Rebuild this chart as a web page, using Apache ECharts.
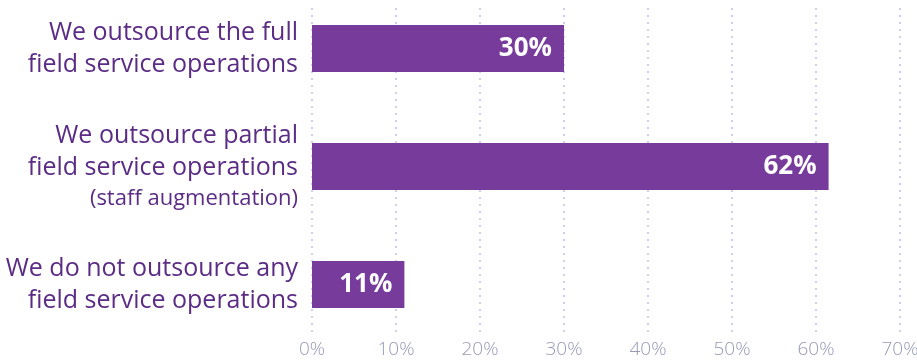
<!DOCTYPE html>
<html>
<head>
<meta charset="utf-8">
<script src="https://cdn.jsdelivr.net/npm/echarts@6/dist/echarts.min.js"></script>
<style>
  html, body { margin: 0; padding: 0; background: #fff; }
  #chart { width: 917px; height: 360px; }
</style>
</head>
<body>
<div id="chart"></div>
<script>
const categories = [
  'We outsource the full\nfield service operations',
  'We outsource partial\nfield service operations\n{small|(staff augmentation)}',
  'We do not outsource any\nfield service operations',
]
const values = [30, 61.5, 11]
const valueLabels = ['30%', '62%', '11%']
const tickMax = 70
const tickStep = 10

const chart = echarts.init(document.getElementById('chart'))

const option = {
  animation: false,
  grid: [
    // grid with the dotted lines and percent ticks
    { left: 312, right: 17, top: 8, bottom: 25, outerBoundsMode: 'none' },
    // grid holding the bars
    { left: 312, right: 17, top: -10.5, height: 354, outerBoundsMode: 'none' },
  ],
  xAxis: [
    {
      gridIndex: 0,
      type: 'value',
      min: 0,
      max: tickMax,
      interval: tickStep,
      axisLine: { show: false },
      axisTick: { show: false },
      axisLabel: {
        formatter: '{value}%',
        color: '#979ab5',
        fontFamily: 'Open Sans',
        fontWeight: 300,
        fontSize: 19,
        margin: 5,
      },
      splitLine: {
        show: true,
        lineStyle: { color: '#cdd0f2', width: 2, type: [2, 5] },
      },
    },
    {
      gridIndex: 1,
      type: 'value',
      min: 0,
      max: tickMax,
      show: false,
    },
  ],
  yAxis: [
    {
      gridIndex: 0,
      type: 'category',
      data: categories,
      show: false,
    },
    {
      gridIndex: 1,
      type: 'category',
      data: categories,
      inverse: true,
      axisLine: { show: false },
      axisTick: { show: false },
      axisLabel: {
        color: '#5b2c85',
        fontFamily: 'Open Sans',
        fontSize: 25,
        lineHeight: 32,
        align: 'right',
        margin: 14,
        rich: {
          small: {
            color: '#5b2c85',
            fontFamily: 'Open Sans',
            fontSize: 22,
            lineHeight: 30,
          },
        },
      },
    },
  ],
  series: [
    {
      type: 'bar',
      xAxisIndex: 1,
      yAxisIndex: 1,
      data: values,
      barWidth: 47,
      itemStyle: { color: '#763b9b' },
      label: {
        show: true,
        position: 'insideRight',
        distance: 12,
        formatter: (p) => valueLabels[p.dataIndex],
        color: '#fff',
        fontFamily: 'Open Sans',
        fontWeight: 'bold',
        fontSize: 26,
      },
    },
  ],
}

chart.setOption(option)
</script>
</body>
</html>
